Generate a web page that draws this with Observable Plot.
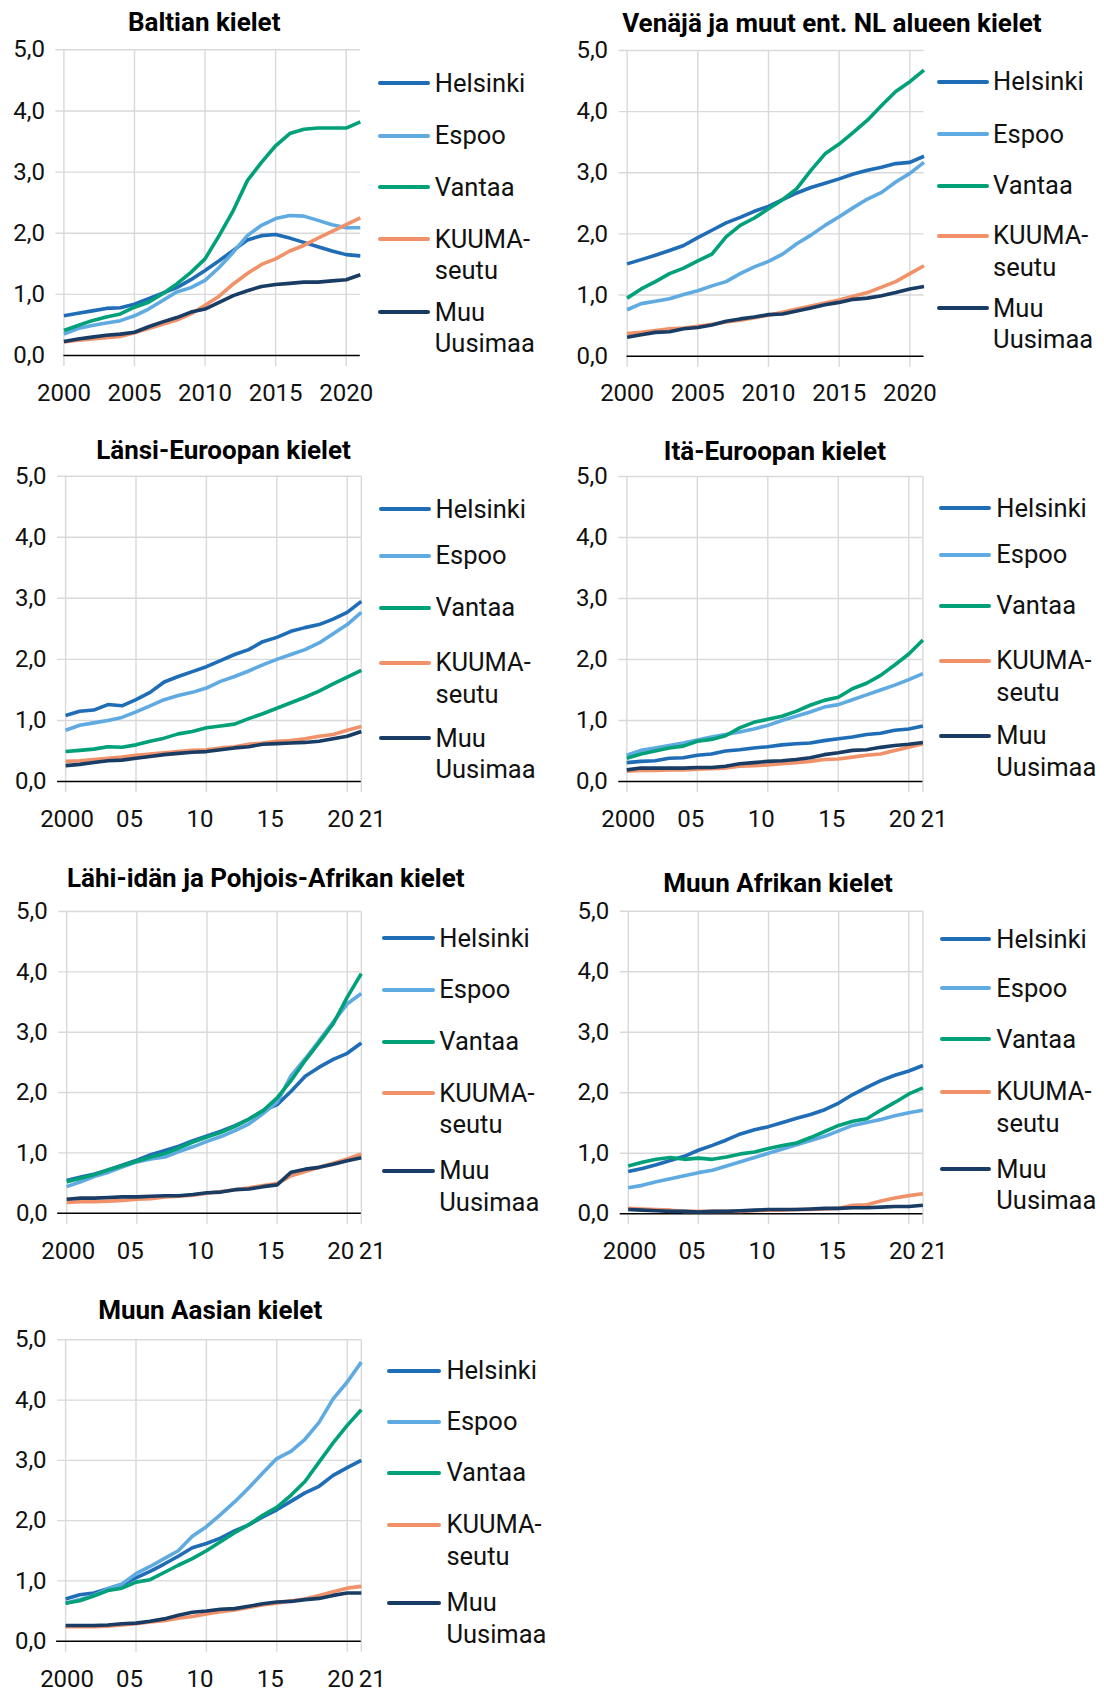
<!DOCTYPE html>
<html>
<head>
<meta charset="utf-8">
<script src="https://cdn.jsdelivr.net/npm/d3@7"></script>
<script src="https://cdn.jsdelivr.net/npm/@observablehq/plot@0.6"></script>
<style>
  html, body { margin: 0; padding: 0; background: #ffffff; }
  body { font-family: Roboto, "Noto Sans", sans-serif; color: #111; }
  #root { position: relative; width: 1104px; height: 1690px; overflow: hidden; background: #fff; }
  .panel { position: absolute; }
  .panel svg { overflow: visible; }
  .title { position: absolute; font-weight: 700; font-size: 26px; line-height: 26px; white-space: nowrap; transform: translateX(-50%); color: #000; }
  .leg { position: absolute; font-size: 25.5px; line-height: 31.5px; white-space: pre; color: #111; }
  .legline { position: absolute; height: 4px; border-radius: 2px; }
</style>
</head>
<body>
<div id="root"></div>
<script>
// ---------- DATA ----------
const years = [2000,2001,2002,2003,2004,2005,2006,2007,2008,2009,2010,2011,2012,2013,2014,2015,2016,2017,2018,2019,2020,2021];
const seriesNames = ["Helsinki", "Espoo", "Vantaa", "KUUMA-seutu", "Muu Uusimaa"];
const legendLabels = ["Helsinki", "Espoo", "Vantaa", "KUUMA-\nseutu", "Muu\nUusimaa"];
const seriesColors = ["#1f6db6", "#5eaae1", "#00a078", "#f09169", "#193c64"];
const titles = ["Baltian kielet", "Venäjä ja muut ent. NL alueen kielet", "Länsi-Euroopan kielet", "Itä-Euroopan kielet", "Lähi-idän ja Pohjois-Afrikan kielet", "Muun Afrikan kielet", "Muun Aasian kielet"];
const yTicks = [0, 1, 2, 3, 4, 5];
const xTicksFull = [2000, 2005, 2010, 2015, 2020];
const xLabelsFull = ["2000", "2005", "2010", "2015", "2020"];
const xTicksShort = [2000, 2005, 2010, 2015, 2020, 2021];
const xLabelsShort = ["2000", "05", "10", "15", "20", "21"];

// Baltian kielet
const balHel = [0.65,0.69,0.73,0.77,0.78,0.84,0.93,1.02,1.11,1.24,1.39,1.55,1.72,1.89,1.96,1.98,1.92,1.85,1.78,1.71,1.65,1.63];
const balEsp = [0.35,0.44,0.49,0.53,0.57,0.65,0.76,0.90,1.04,1.11,1.23,1.44,1.69,1.96,2.13,2.24,2.29,2.28,2.21,2.14,2.09,2.09];
const balVan = [0.41,0.49,0.57,0.63,0.68,0.79,0.87,1.01,1.17,1.36,1.58,1.96,2.37,2.86,3.16,3.43,3.63,3.70,3.72,3.72,3.72,3.82];
const balKuu = [0.22,0.25,0.27,0.29,0.31,0.37,0.44,0.51,0.58,0.68,0.82,0.97,1.17,1.34,1.49,1.58,1.71,1.80,1.92,2.03,2.14,2.25];
const balMuu = [0.23,0.27,0.30,0.33,0.35,0.38,0.47,0.55,0.62,0.71,0.76,0.87,0.98,1.06,1.13,1.16,1.18,1.20,1.20,1.22,1.24,1.32];
// Venäjä ja muut ent. NL alueen kielet
const venHel = [1.51,1.58,1.65,1.73,1.81,1.94,2.06,2.18,2.27,2.37,2.45,2.56,2.67,2.76,2.83,2.90,2.98,3.04,3.09,3.15,3.17,3.27];
const venEsp = [0.76,0.86,0.90,0.94,1.01,1.07,1.15,1.22,1.35,1.46,1.55,1.67,1.84,1.98,2.14,2.28,2.43,2.57,2.68,2.85,2.99,3.17];
const venVan = [0.95,1.10,1.22,1.35,1.44,1.56,1.67,1.95,2.14,2.26,2.41,2.56,2.74,3.04,3.31,3.47,3.66,3.86,4.10,4.33,4.49,4.68];
const venKuu = [0.37,0.39,0.42,0.45,0.46,0.49,0.52,0.56,0.59,0.63,0.67,0.72,0.77,0.82,0.87,0.92,0.98,1.04,1.13,1.22,1.35,1.48];
const venMuu = [0.31,0.35,0.39,0.40,0.45,0.47,0.51,0.57,0.61,0.64,0.68,0.69,0.74,0.79,0.84,0.88,0.93,0.95,0.99,1.04,1.10,1.14];
// Länsi-Euroopan kielet
const lanHel = [1.08,1.15,1.17,1.26,1.24,1.34,1.46,1.63,1.72,1.80,1.88,1.98,2.08,2.16,2.29,2.36,2.46,2.52,2.57,2.66,2.77,2.95];
const lanEsp = [0.84,0.92,0.96,1.00,1.05,1.14,1.24,1.34,1.41,1.46,1.53,1.64,1.72,1.81,1.91,2.00,2.08,2.16,2.27,2.42,2.57,2.77];
const lanVan = [0.49,0.51,0.53,0.57,0.56,0.60,0.66,0.71,0.78,0.82,0.88,0.91,0.94,1.03,1.11,1.20,1.29,1.38,1.48,1.60,1.71,1.82];
const lanKuu = [0.33,0.34,0.36,0.38,0.40,0.43,0.45,0.47,0.49,0.51,0.52,0.55,0.57,0.61,0.63,0.66,0.67,0.70,0.74,0.77,0.84,0.90];
const lanMuu = [0.26,0.28,0.31,0.34,0.35,0.38,0.41,0.44,0.46,0.48,0.49,0.52,0.55,0.57,0.61,0.62,0.63,0.64,0.66,0.70,0.74,0.82];
// Itä-Euroopan kielet
const itaHel = [0.31,0.33,0.34,0.38,0.39,0.43,0.45,0.50,0.52,0.55,0.57,0.60,0.62,0.63,0.67,0.70,0.73,0.77,0.79,0.84,0.86,0.91];
const itaEsp = [0.43,0.51,0.55,0.59,0.63,0.68,0.73,0.77,0.81,0.86,0.92,1.00,1.07,1.14,1.22,1.26,1.34,1.42,1.50,1.58,1.67,1.77];
const itaVan = [0.38,0.45,0.50,0.55,0.58,0.66,0.69,0.75,0.88,0.97,1.02,1.07,1.15,1.25,1.33,1.38,1.52,1.61,1.74,1.91,2.09,2.32];
const itaKuu = [0.17,0.18,0.18,0.19,0.19,0.20,0.21,0.22,0.25,0.26,0.27,0.29,0.31,0.33,0.36,0.37,0.40,0.43,0.45,0.51,0.56,0.62];
const itaMuu = [0.19,0.22,0.22,0.22,0.22,0.23,0.23,0.25,0.29,0.31,0.33,0.34,0.36,0.39,0.44,0.47,0.51,0.52,0.56,0.59,0.61,0.64];
// Lähi-idän ja Pohjois-Afrikan kielet
const lahHel = [0.54,0.60,0.65,0.72,0.80,0.88,0.97,1.04,1.11,1.20,1.28,1.36,1.45,1.56,1.70,1.80,2.02,2.27,2.42,2.55,2.65,2.82];
const lahEsp = [0.44,0.52,0.61,0.68,0.77,0.85,0.90,0.93,1.02,1.10,1.19,1.27,1.37,1.48,1.65,1.84,2.28,2.56,2.86,3.17,3.47,3.64];
const lahVan = [0.52,0.58,0.64,0.72,0.79,0.86,0.93,0.99,1.08,1.18,1.26,1.34,1.44,1.56,1.70,1.91,2.20,2.53,2.83,3.14,3.58,3.97];
const lahKuu = [0.18,0.19,0.19,0.20,0.21,0.23,0.24,0.27,0.28,0.30,0.33,0.36,0.39,0.42,0.46,0.49,0.62,0.69,0.76,0.83,0.90,0.98];
const lahMuu = [0.23,0.25,0.25,0.26,0.27,0.27,0.28,0.29,0.29,0.31,0.34,0.35,0.39,0.40,0.44,0.47,0.68,0.73,0.76,0.81,0.87,0.92];
// Muun Afrikan kielet
const afrHel = [0.70,0.75,0.81,0.88,0.95,1.05,1.13,1.22,1.32,1.39,1.44,1.51,1.58,1.64,1.72,1.83,1.97,2.09,2.20,2.29,2.36,2.45];
const afrEsp = [0.43,0.47,0.53,0.58,0.63,0.68,0.72,0.79,0.86,0.93,1.00,1.07,1.14,1.21,1.28,1.37,1.46,1.51,1.56,1.62,1.67,1.71];
const afrVan = [0.79,0.85,0.90,0.93,0.90,0.92,0.90,0.94,0.99,1.02,1.08,1.13,1.17,1.26,1.36,1.46,1.53,1.57,1.71,1.84,1.98,2.08];
const afrKuu = [0.09,0.08,0.07,0.06,0.04,0.04,0.04,0.04,0.04,0.05,0.06,0.06,0.07,0.07,0.08,0.09,0.14,0.15,0.21,0.26,0.30,0.33];
const afrMuu = [0.07,0.06,0.05,0.04,0.04,0.03,0.04,0.04,0.05,0.06,0.07,0.07,0.07,0.08,0.09,0.09,0.10,0.10,0.11,0.12,0.12,0.14];
// Muun Aasian kielet
const aasHel = [0.70,0.77,0.80,0.87,0.94,1.05,1.16,1.28,1.41,1.55,1.62,1.71,1.83,1.93,2.06,2.18,2.32,2.46,2.57,2.75,2.88,3.00];
const aasEsp = [0.63,0.69,0.76,0.87,0.95,1.12,1.24,1.37,1.50,1.74,1.90,2.10,2.31,2.54,2.79,3.03,3.15,3.35,3.63,4.02,4.30,4.63];
const aasVan = [0.63,0.67,0.75,0.84,0.88,0.98,1.02,1.14,1.26,1.37,1.50,1.65,1.80,1.93,2.09,2.22,2.42,2.65,2.97,3.29,3.58,3.84];
const aasKuu = [0.24,0.24,0.24,0.25,0.27,0.29,0.32,0.34,0.38,0.41,0.45,0.49,0.52,0.56,0.60,0.63,0.67,0.70,0.76,0.82,0.88,0.91];
const aasMuu = [0.26,0.26,0.26,0.27,0.29,0.30,0.33,0.37,0.43,0.48,0.50,0.53,0.54,0.58,0.62,0.65,0.66,0.69,0.71,0.76,0.80,0.80];

const panelSeries = [
  [balHel, balEsp, balVan, balKuu, balMuu],
  [venHel, venEsp, venVan, venKuu, venMuu],
  [lanHel, lanEsp, lanVan, lanKuu, lanMuu],
  [itaHel, itaEsp, itaVan, itaKuu, itaMuu],
  [lahHel, lahEsp, lahVan, lahKuu, lahMuu],
  [afrHel, afrEsp, afrVan, afrKuu, afrMuu],
  [aasHel, aasEsp, aasVan, aasKuu, aasMuu]
];

// ---------- LAYOUT (page pixels) ----------
const layout = [
  {ox:0,   oy:0,    h:420, x0:63.4,  x21:359.8, y5:49.3,   y0:355,    short:false, base:0,  tx:204.2, ty:21.7,   lx1:378,   lx2:429.5, ltx:434.8, ly:[83.3,135.7,187.3,239.3,312.3], pad:28},
  {ox:552, oy:0,    h:420, x0:626.6, x21:923.5, y5:50,     y0:355.7,  short:false, base:0,  tx:831.9, ty:22.5,   lx1:937,   lx2:988.5, ltx:993.1, ly:[81.7,134.3,186,235.7,308.3], pad:28},
  {ox:0,   oy:420,  h:430, x0:65.1,  x21:360.8, y5:475.7,  y0:781,    short:true,  base:-8, tx:223.5, ty:449.7,  lx1:379,   lx2:431.3, ltx:435.5, ly:[509.3,556,607.7,662.7,738.3], pad:28.5},
  {ox:552, oy:420,  h:430, x0:626.3, x21:922.4, y5:476,    y0:781,    short:true,  base:-8, tx:774.9, ty:450.5,  lx1:939,   lx2:991.4, ltx:996.3, ly:[508.3,555,606,660.7,735.7], pad:28.5},
  {ox:0,   oy:850,  h:430, x0:66.2,  x21:360.8, y5:911,    y0:1212.7, short:true,  base:-9, tx:265.8, ty:877.2,  lx1:382,   lx2:434.8, ltx:439.3, ly:[938.3,990,1041.7,1093.3,1171], pad:28.5},
  {ox:552, oy:850,  h:430, x0:627.7, x21:922.4, y5:910.7,  y0:1213.3, short:true,  base:-8, tx:778,   ty:882.5,  lx1:940,   lx2:991.4, ltx:996.3, ly:[939.3,988.3,1039.3,1091.7,1169.3], pad:28.5},
  {ox:0,   oy:1280, h:410, x0:65.1,  x21:360.8, y5:1339.3, y0:1640.7, short:true,  base:-9, tx:210.2, ty:1309.5, lx1:387,   lx2:441.1, ltx:446.4, ly:[1370.7,1421.7,1472.7,1525,1602.7], pad:28.5}
];

const root = document.getElementById("root");
const fmtY = d => d.toFixed(1).replace(".", ",");

layout.forEach((L, i) => {
  const data = [];
  panelSeries[i].forEach((vals, s) => {
    vals.forEach((v, k) => data.push({year: years[k], value: v, series: seriesNames[s]}));
  });
  const tickYears = L.short ? xTicksShort : xTicksFull;
  const tickLabels = L.short ? xLabelsShort : xLabelsFull;
  const xlab = tickYears.map((y, k) => ({year: y, label: tickLabels[k]}));
  const gridYears = L.short ? xTicksShort : xTicksFull;

  const xLabelMarks = L.short ? [
    Plot.text(xlab.filter(d => d.year === 2000), {x: "year", text: "label", frameAnchor: "bottom", lineAnchor: "top", dy: L.pad, dx: 1.5, fontSize: 24, fill: "#111"}),
    Plot.text(xlab.filter(d => d.year > 2000 && d.year < 2021), {x: "year", text: "label", frameAnchor: "bottom", lineAnchor: "top", dy: L.pad, dx: -6.5, fontSize: 24, fill: "#111"}),
    Plot.text(xlab.filter(d => d.year === 2021), {x: "year", text: "label", frameAnchor: "bottom", lineAnchor: "top", dy: L.pad, dx: 11, fontSize: 24, fill: "#111"})
  ] : [
    Plot.text(xlab, {x: "year", text: "label", frameAnchor: "bottom", lineAnchor: "top", dy: L.pad, fontSize: 24, fill: "#111"})
  ];

  const chart = Plot.plot({
    width: 552,
    height: L.h,
    marginLeft: L.x0 - L.ox,
    marginRight: L.ox + 552 - L.x21,
    marginTop: L.y5 - L.oy,
    marginBottom: L.oy + L.h - L.y0,
    x: {domain: [2000, 2021], label: null, axis: null},
    y: {domain: [0, 5], label: null, axis: null},
    color: {domain: seriesNames, range: seriesColors},
    style: {fontFamily: "Roboto, 'Noto Sans', sans-serif", fontSize: "24px", background: "transparent", overflow: "visible", color: "#111"},
    marks: [
      Plot.ruleY(yTicks.filter(d => d > 0), {y: d => d, stroke: "#d9d9d9", strokeWidth: 1.4, insetLeft: -8}),
      Plot.ruleX(gridYears, {x: d => d, stroke: "#d9d9d9", strokeWidth: 1.4, insetBottom: -11}),
      Plot.ruleY([0], {y: d => d, stroke: "#000", strokeWidth: 1.6, insetLeft: L.base}),
      Plot.line(data, {x: "year", y: "value", z: "series", stroke: "series", strokeWidth: 3.6, strokeLinejoin: "round", strokeLinecap: "butt"}),
      Plot.text(yTicks, {y: d => d, text: d => fmtY(d), frameAnchor: "left", textAnchor: "end", dx: -19, fontSize: 24, fill: "#111"}),
      ...xLabelMarks
    ]
  });
  const wrap = document.createElement("div");
  wrap.className = "panel";
  wrap.style.left = L.ox + "px";
  wrap.style.top = L.oy + "px";
  wrap.appendChild(chart);
  root.appendChild(wrap);

  // title
  const t = document.createElement("div");
  t.className = "title";
  t.textContent = titles[i];
  t.style.left = L.tx + "px";
  t.style.top = (L.ty - 12.5) + "px";
  root.appendChild(t);

  // legend
  seriesNames.forEach((name, s) => {
    const line = document.createElement("div");
    line.className = "legline";
    line.style.left = L.lx1 + "px";
    line.style.width = (L.lx2 - L.lx1) + "px";
    line.style.top = (L.ly[s] - 2) + "px";
    line.style.background = seriesColors[s];
    root.appendChild(line);
    const lab = document.createElement("div");
    lab.className = "leg";
    lab.textContent = legendLabels[s];
    lab.style.left = L.ltx + "px";
    lab.style.top = (L.ly[s] - 15.6) + "px";
    root.appendChild(lab);
  });
});
</script>
</body>
</html>
